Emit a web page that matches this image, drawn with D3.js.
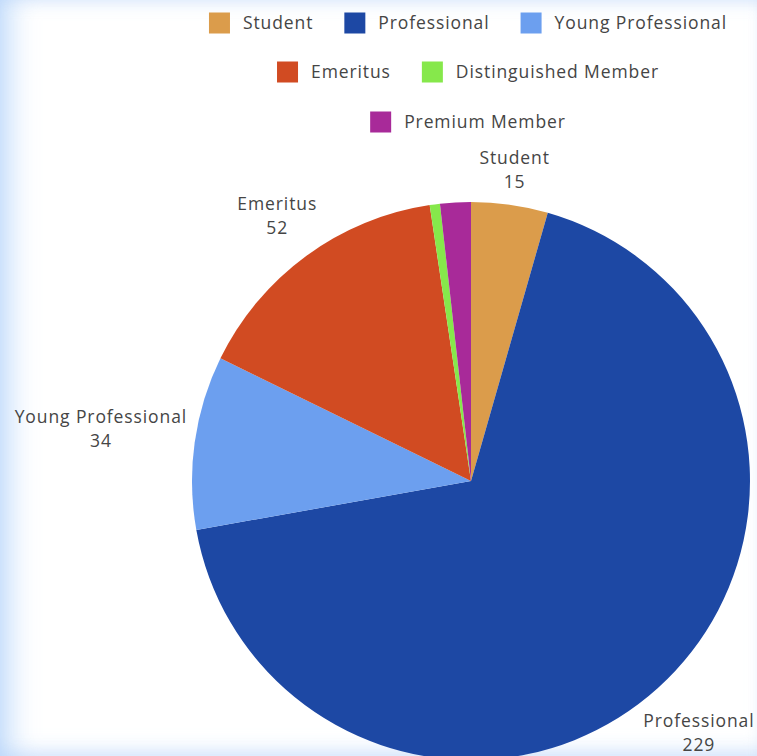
<!DOCTYPE html>
<html>
<head>
<meta charset="utf-8">
<script src="https://cdn.jsdelivr.net/npm/d3@7"></script>
<style>
  html, body { margin: 0; padding: 0; background: #fff; }
  body { width: 757px; height: 756px; overflow: hidden; position: relative; }
  #glow { position: absolute; left: 0; top: 0; width: 757px; height: 756px; pointer-events: none;
    box-shadow: inset 22px 0 28px -12px rgba(170, 205, 250, 0.7), inset 0 10px 16px -10px rgba(190, 215, 250, 0.5), inset 0 -14px 20px -10px rgba(190, 215, 250, 0.6); }
  svg { position: absolute; left: 0; top: 0; }
</style>
</head>
<body>
<div id="glow"></div>
<svg id="chart" width="757" height="756"></svg>
<script>
const categories = ["Student", "Professional", "Young Professional", "Emeritus", "Distinguished Member", "Premium Member"];
const values = [15, 229, 34, 52, 2, 6];
const colors = ["#DB9C4B", "#1D48A4", "#6C9FEF", "#D14B22", "#86E84B", "#A82A99"];
const labelShown = [true, true, true, true, false, false];
const legendRows = [[0, 1, 2], [3, 4], [5]];

const W = 757, H = 756;
const cx = 471, cy = 481, R = 279;
const font = "'Open Sans', sans-serif";
const textColor = "#454545";
const ls = "0.9px";

const svg = d3.select("#chart");
const color = d3.scaleOrdinal().domain(categories).range(colors);

const data = categories.map((c, i) => ({ name: c, value: values[i], show: labelShown[i] }));
const pie = d3.pie().value(d => d.value).sort(null);
const arcs = pie(data);
const arc = d3.arc().innerRadius(0).outerRadius(R);

const g = svg.append("g").attr("transform", `translate(${cx},${cy})`);
g.selectAll("path").data(arcs).join("path")
  .attr("d", arc)
  .attr("fill", d => color(d.data.name));

// outside labels
const fs = 17.5, lineH = 24;
arcs.filter(d => d.data.show).forEach(d => {
  const a = (d.startAngle + d.endAngle) / 2;
  const t = g.append("text")
    .attr("font-family", font).attr("font-size", fs).attr("fill", textColor)
    .attr("letter-spacing", ls)
    .attr("text-anchor", "middle");
  t.append("tspan").attr("x", 0).attr("dy", 0).text(d.data.name);
  t.append("tspan").attr("x", 0).attr("dy", lineH).text(d.data.value);
  const bb = t.node().getBBox();
  const w = bb.width, h = lineH * 2;
  const off = R + 6 + Math.abs(Math.sin(a)) * w / 2 + Math.abs(Math.cos(a)) * h / 2;
  const px = Math.sin(a) * off, py = -Math.cos(a) * off;
  t.attr("transform", `translate(${px},${py - h / 2 + 18})`);
});

// legend
const sw = 21, gapT = 13, gapItem = 31;
const rowY = [23, 72, 122];
const legendCx = 468;
legendRows.forEach((row, ri) => {
  const lg = svg.append("g");
  let x = 0;
  row.forEach(idx => {
    const item = lg.append("g").attr("transform", `translate(${x},0)`);
    item.append("rect").attr("x", 0).attr("y", -sw / 2).attr("width", sw).attr("height", sw)
      .attr("fill", colors[idx]);
    const tx = item.append("text").attr("x", sw + gapT).attr("y", 6)
      .attr("font-family", font).attr("font-size", fs).attr("fill", textColor)
      .attr("letter-spacing", ls)
      .text(categories[idx]);
    x += sw + gapT + tx.node().getComputedTextLength() + gapItem;
  });
  const total = x - gapItem;
  lg.attr("transform", `translate(${legendCx - total / 2},${rowY[ri]})`);
});
</script>
</body>
</html>
